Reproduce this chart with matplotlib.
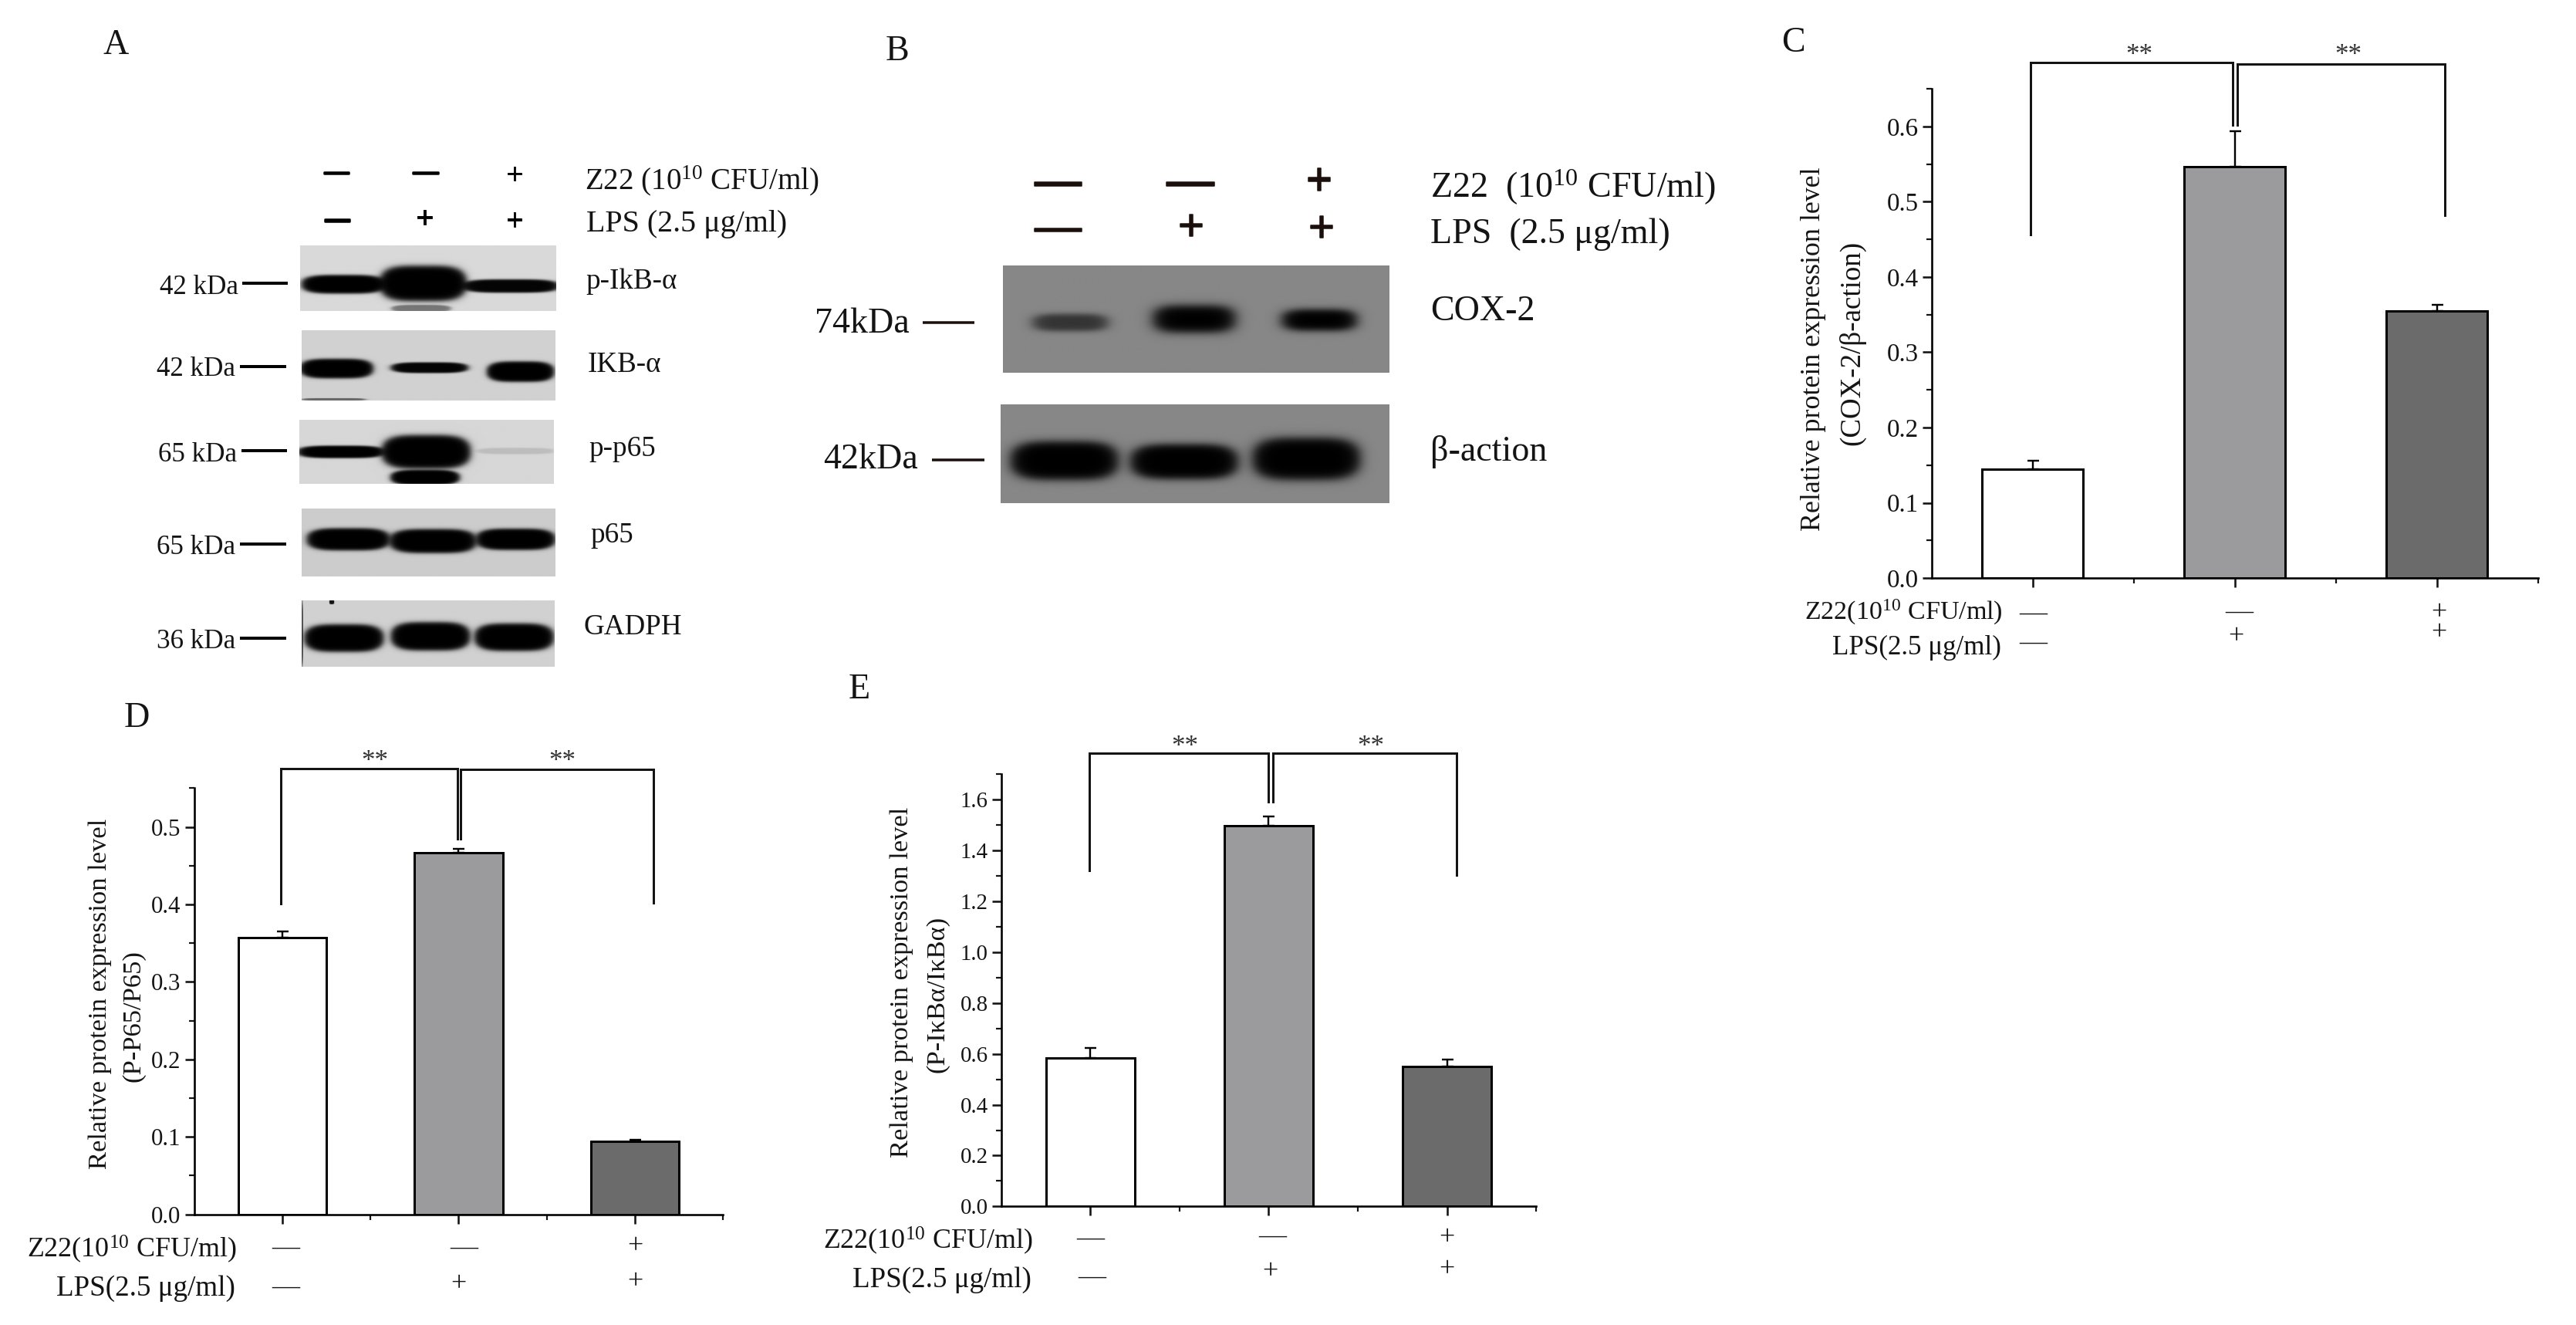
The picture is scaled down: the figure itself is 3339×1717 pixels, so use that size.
import numpy as np
import matplotlib
matplotlib.use("Agg")
import matplotlib.pyplot as plt
import matplotlib.patheffects as pe
from matplotlib.ticker import MultipleLocator, FixedLocator

plt.rcParams['font.family'] = ['Liberation Serif', 'DejaVu Serif']
plt.rcParams['mathtext.fontset'] = 'custom'
plt.rcParams['mathtext.rm'] = 'Liberation Serif'
plt.rcParams['mathtext.default'] = 'regular'

W, H = 3339, 1717
DPI = 100
INK = '#141414'
BAR_COLORS = ['#ffffff', '#9b9a9c', '#6b6b6b']

# ---- chart data ----
c_values = [0.145, 0.546, 0.355]
c_errors = [0.011, 0.048, 0.008]
d_values = [0.357, 0.467, 0.094]
d_errors = [0.008, 0.005, 0.002]
e_values = [0.583, 1.495, 0.550]
e_errors = [0.040, 0.038, 0.027]

Z22_CHART = 'Z22(10$^{10}$ CFU/ml)'
LPS_CHART = 'LPS(2.5 μg/ml)'
YLABEL = 'Relative protein expression level'

fig = plt.figure(figsize=(W / DPI, H / DPI), dpi=DPI, facecolor='white')

# layout positions below were measured relative to a panel origin
K = 1560 / 1568
ORIGIN = [0, 0]


def panel(ox, oy):
    ORIGIN[0], ORIGIN[1] = ox, oy


def tx(x):
    return ORIGIN[0] + (x - ORIGIN[0]) * K


def ty(y):
    return ORIGIN[1] + (y - ORIGIN[1]) * K


def pt(px):
    return px * 72.0 / DPI


def label(x, y, s, size, ha='left', va='center', rotation=0, color=INK, weight='normal', stroke=0):
    t = fig.text(tx(x) / W, 1 - ty(y) / H, s, fontsize=pt(size), ha=ha, va=va,
                 rotation=rotation, color=color, fontweight=weight,
                 rotation_mode='anchor' if rotation else 'default')
    if stroke:
        t.set_path_effects([pe.withStroke(linewidth=pt(stroke), foreground=color)])


def pxline(x0, x1, y0, y1, lw=3, color=INK):
    fig.add_artist(plt.Line2D([tx(x0) / W, tx(x1) / W], [1 - ty(y0) / H, 1 - ty(y1) / H],
                              transform=fig.transFigure, color=color, lw=pt(lw),
                              solid_capstyle='butt'))


def chart(left, right, base, top, ymax, yminor, ymajor, vals, errs, size,
          left_br, right_br, stars, star_y):
    l, r, b, t = tx(left), tx(right), ty(base), ty(top)
    ax = fig.add_axes([l / W, 1 - b / H, (r - l) / W, (b - t) / H])
    ax.set_xlim(-0.5, 2.5)
    ax.set_ylim(0, ymax)
    ax.bar(range(3), vals, width=0.5, color=BAR_COLORS, edgecolor='black', linewidth=pt(3), zorder=2)
    ax.errorbar(range(3), vals, yerr=[[0, 0, 0], errs], fmt='none', ecolor='black',
                elinewidth=pt(2.4), capsize=pt(7.5), capthick=pt(2.4), zorder=1)
    for s in ('top', 'right'):
        ax.spines[s].set_visible(False)
    for s in ('left', 'bottom'):
        ax.spines[s].set_linewidth(pt(2.6))
    ax.xaxis.set_major_locator(FixedLocator([0, 1, 2]))
    ax.xaxis.set_minor_locator(FixedLocator([0.5, 1.5, 2.5]))
    ax.set_xticklabels([])
    ax.yaxis.set_major_locator(MultipleLocator(ymajor))
    ax.yaxis.set_minor_locator(MultipleLocator(yminor))
    ax.yaxis.set_major_formatter(plt.FuncFormatter(lambda v, _: f'{v:.1f}'))
    ax.tick_params(which='major', length=pt(12), width=pt(2.6), labelsize=pt(size), pad=pt(5), colors=INK)
    ax.tick_params(which='minor', length=pt(7), width=pt(2.2), colors=INK)
    for br in (left_br, right_br):
        ax.plot(br[0], br[1], color=INK, lw=pt(3), clip_on=False, solid_joinstyle='miter', zorder=3)
    for sx in stars:
        ax.text(sx, star_y, '**', fontsize=pt(35), ha='center', va='center', color='#333333', clip_on=False)
    return ax


# ---- panel C ----
panel(2300, 0)
chart(2505, 3295, 753, 115.6, 0.65, 0.05, 0.1, c_values, c_errors, 33,
      ([-0.01, -0.01, 0.99, 0.99], [0.456, 0.685, 0.685, 0.602]),
      ([1.01, 1.01, 2.04, 2.04], [0.602, 0.683, 0.683, 0.482]),
      [0.525, 1.559], 0.694)
label(2351, 455, YLABEL, 36, ha='center', rotation=90)
label(2401, 447, '(COX-2/β-action)', 37, ha='center', rotation=90)
label(2597, 798, Z22_CHART, 34, ha='right')
label(2595, 844, LPS_CHART, 35, ha='right')
for x, y, s in [(2637, 799, '—'), (2637, 837, '—'), (2905, 797, '—'),
                (2901, 830, '+'), (3166, 799, '+'), (3166, 825, '+')]:
    label(x, y, s, 36, ha='center')
label(2325, 56, 'C', 46, ha='center')

# ---- panel D ----
panel(0, 900)
chart(253, 942, 1577, 1022, 0.55, 0.05, 0.1, d_values, d_errors, 31,
      ([-0.01, -0.01, 0.995, 0.995], [0.401, 0.575, 0.575, 0.485]),
      ([1.013, 1.013, 2.105, 2.105], [0.485, 0.574, 0.574, 0.402]),
      [0.523, 1.588], 0.584)
label(130, 1290, YLABEL, 34.5, ha='center', rotation=90)
label(174, 1319, '(P-P65/P65)', 34.5, ha='center', rotation=90)
label(308, 1622, Z22_CHART, 36, ha='right')
label(306, 1674, LPS_CHART, 37, ha='right')
for x, y, s in [(372, 1621, '—'), (372, 1672, '—'), (604, 1621, '—'),
                (597, 1669, '+'), (828, 1619, '+'), (828, 1666, '+')]:
    label(x, y, s, 36, ha='center')
label(178, 931, 'D', 46, ha='center')

# ---- panel E ----
panel(1050, 870)
chart(1299, 1996, 1567, 1003.5, 1.7, 0.1, 0.2, e_values, e_errors, 29,
      ([-0.004, -0.004, 0.996, 0.996], [1.319, 1.782, 1.782, 1.589]),
      ([1.022, 1.022, 2.054, 2.054], [1.589, 1.782, 1.782, 1.302]),
      [0.53, 1.573], 1.804)
label(1169, 1275, YLABEL, 34.5, ha='center', rotation=90)
label(1216, 1291, '(P-IκBα/IκBα)', 34.5, ha='center', rotation=90)
label(1340, 1612, Z22_CHART, 36, ha='right')
label(1338, 1663, LPS_CHART, 37, ha='right')
for x, y, s in [(1415, 1609, '—'), (1417, 1659, '—'), (1652, 1606, '—'),
                (1649, 1653, '+'), (1880, 1608, '+'), (1880, 1650, '+')]:
    label(x, y, s, 36, ha='center')
label(1114, 894, 'E', 46, ha='center')


# ---- western blot pictures (synthetic band renderings) ----
def blot(x0, x1, y0, y1, bg, bands, soft=0.12, power=4):
    """bands: (cx, cy, half-w, half-h, strength) in figure pixels"""
    x0, x1, y0, y1 = tx(x0), tx(x1), ty(y0), ty(y1)
    w, h = int(x1 - x0), int(y1 - y0)
    yy, xx = np.mgrid[y0:y1:complex(0, h), x0:x1:complex(0, w)]
    keep = np.ones_like(xx)
    for cx, cy, hw, hh, amp in bands:
        cx, cy = tx(cx), ty(cy)
        r = (np.abs((xx - cx) / hw) ** power + np.abs((yy - cy) / hh) ** 2.4) ** (1.0 / 2.4)
        a = 1 / (1 + np.exp(np.clip((r - 1) / soft, -30, 30)))
        keep *= 1 - amp * a
    img = bg * keep
    ax = fig.add_axes([x0 / W, 1 - y1 / H, (x1 - x0) / W, (y1 - y0) / H])
    ax.imshow(img, cmap='gray', vmin=0, vmax=1, aspect='auto', interpolation='bilinear')
    ax.axis('off')


def band_a(zcx, zcy, zhw, zhh, amp):
    return (100 + zcx / 1.56, zcy / 1.733, zhw / 1.56, zhh / 1.733, amp)


panel(100, 0)
blot(390, 723, 320, 405, 0.85, [band_a(540, 642, 85, 21, 1), band_a(702, 640, 88, 40, 1),
                                band_a(880, 646, 98, 15, 0.98), band_a(698, 697, 60, 8, 0.45)], soft=0.08)
blot(392, 722, 430, 522, 0.82, [band_a(526, 833, 74, 22, 1), band_a(715, 831, 78, 12, 0.98),
                                band_a(900, 840, 68, 23, 1), band_a(520, 903, 65, 3, 0.5)], soft=0.08)
blot(389, 720, 547, 630, 0.84, [band_a(535, 1020, 88, 14, 1), band_a(708, 1020, 90, 38, 1),
                                band_a(706, 1078, 70, 17, 1), band_a(890, 1018, 78, 7, 0.12)], soft=0.08)
blot(392, 722, 662, 751, 0.80, [band_a(550, 1218, 84, 25, 1), band_a(722, 1222, 88, 27, 1),
                                band_a(890, 1218, 80, 24, 1)], soft=0.08)
blot(392, 721, 782, 868, 0.82, [band_a(541, 1440, 80, 31, 1), band_a(717, 1436, 80, 32, 1),
                                band_a(887, 1438, 80, 31, 1), band_a(516, 1358, 5, 5, 0.9),
                                band_a(456, 1430, 1.5, 75, 0.6)], soft=0.08)

label(150, 59, 'A', 46, ha='center')
for x, y, s in [(438, 225, '—'), (554, 225, '—'), (670, 230, '+'),
                (439, 287, '—'), (553, 287, '+'), (670, 290, '+')]:
    label(x, y, s, 32 if s == '—' else 40, ha='center', weight='bold',
          stroke=2.5 if s == '—' else 0.8, color='black')
label(761, 235, 'Z22 (10$^{10}$ CFU/ml)', 39)
label(763, 292, 'LPS (2.5 μg/ml)', 40)
for xr, ty_, lx0, lx1, ly, s in [(310, 374, 315, 374, 369, '42 kDa'), (306, 481, 312, 372, 477, '42 kDa'),
                                 (308, 593, 314, 373, 587, '65 kDa'), (306, 713, 312, 372, 709, '65 kDa'),
                                 (306, 836, 312, 372, 831, '36 kDa')]:
    label(xr, ty_, s, 35, ha='right')
    pxline(lx0, lx1, ly, ly, lw=4, color='black')
for x, y, s in [(763, 367, 'p-IkB-α'), (765, 475, 'IKB-α'), (767, 585, 'p-p65'),
                (769, 697, 'p65'), (760, 817, 'GADPH')]:
    label(x, y, s, 37)


def band_b(zcx, zcy, zhw, zhh, amp):
    return (1100 + zcx / 1.3, zcy / 2.167, zhw / 1.3, zhh / 2.167, amp)


panel(1100, 0)
blot(1301, 1804, 346, 485, 0.53, [band_b(375, 910, 62, 24, 0.62), band_b(585, 900, 68, 38, 1),
                                  band_b(797, 903, 62, 30, 1)], soft=0.18)
blot(1298, 1804, 527, 655, 0.53, [band_b(365, 1300, 90, 54, 1), band_b(568, 1303, 90, 49, 1),
                                  band_b(775, 1295, 90, 59, 1)], soft=0.12)

label(1163, 67, 'B', 46, ha='center')
for x, y, s in [(1373, 239, '—'), (1545, 239, '—'), (1713, 239, '+'),
                (1373, 299, '—'), (1546, 299, '+'), (1716, 301, '+')]:
    label(x, y, s, 61, ha='center', color='#1a0f0a', weight='bold', stroke=1.5)
label(1858, 244, 'Z22  (10$^{10}$ CFU/ml)', 46)
label(1858, 305, 'LPS  (2.5 μg/ml)', 46)
label(1858, 406, 'COX-2', 46)
label(1858, 589, 'β-action', 46)
label(1179, 422, '74kDa', 46, ha='right')
label(1190, 599, '42kDa', 46, ha='right')
pxline(1196, 1264, 420, 420, lw=3.5, color='#1a0f0a')
pxline(1209, 1277, 599, 599, lw=3.5, color='#1a0f0a')

fig.savefig('out.png', dpi=DPI, facecolor='white')
